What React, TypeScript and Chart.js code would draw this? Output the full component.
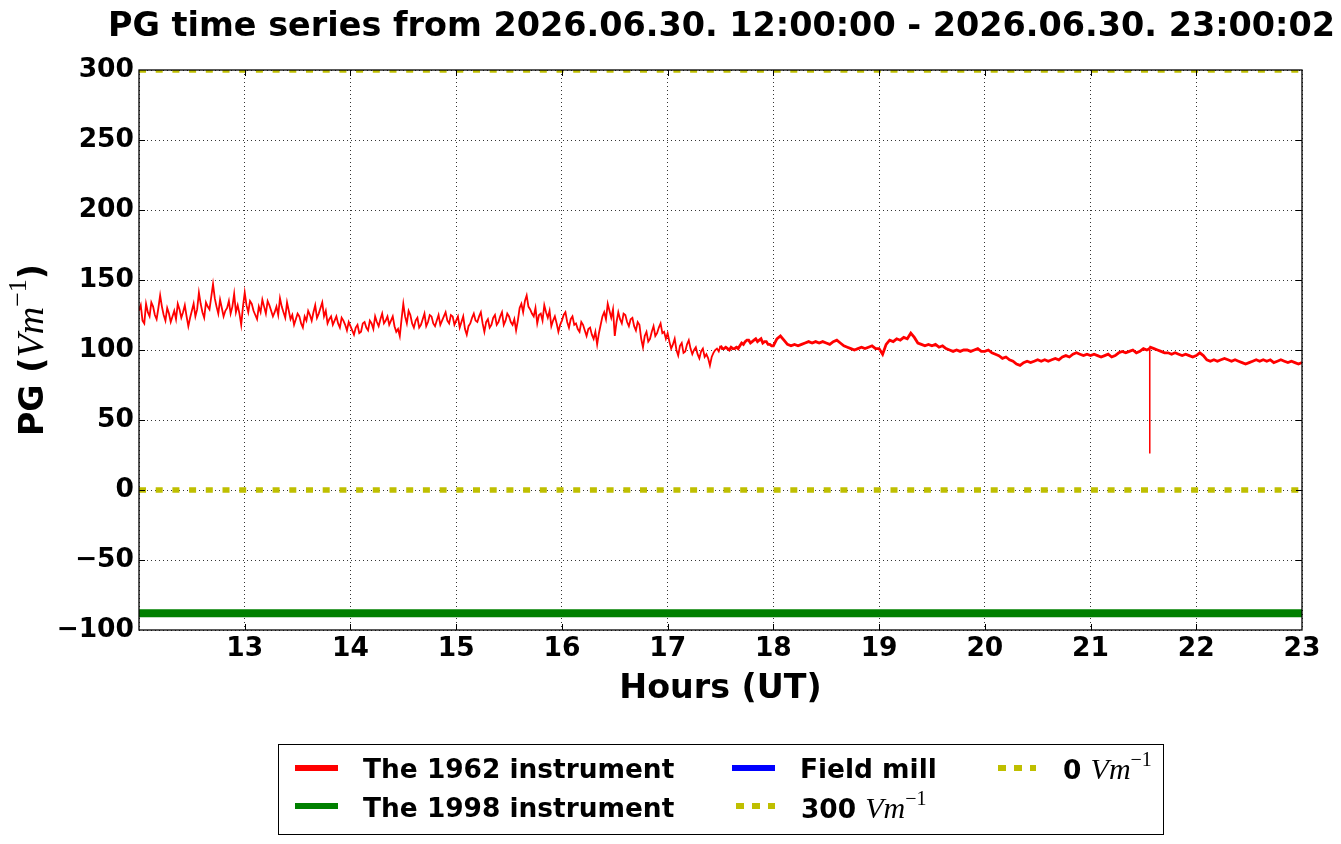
import React, { useEffect, useRef } from "react";
import { Chart, registerables } from "chart.js";

Chart.register(...registerables);

const SANS = "'DejaVu Sans', sans-serif";
const SERIF = "'Liberation Serif', 'DejaVu Serif', serif";

const TITLE = "PG time series from 2026.06.30. 12:00:00 - 2026.06.30. 23:00:02";

// one value every 2 minutes (even minutes), hour by hour (UT)
const hourStarts = [12, 13, 14, 15, 16, 17, 18, 19, 20, 21, 22];
const pg12 = [128, 121, 133, 124, 131, 122, 139, 125, 130, 120, 128, 133, 123, 132, 117, 128, 124, 141, 127, 134, 129, 147, 131, 136, 124, 130, 126, 140, 132, 118];
const pg13 = [141, 127, 133, 125, 131, 136, 126, 132, 124, 131, 137, 127, 134, 122, 118, 126, 119, 124, 128, 121, 132, 126, 134, 128, 122, 118, 124, 116, 121, 114];
const pg14 = [117, 111, 118, 113, 120, 114, 119, 124, 117, 126, 121, 118, 124, 113, 110, 133, 119, 125, 116, 123, 118, 126, 120, 124, 117, 125, 121, 127, 119, 124];
const pg15 = [121, 116, 124, 111, 119, 126, 120, 127, 113, 122, 118, 125, 120, 127, 121, 124, 118, 114, 130, 127, 139, 129, 124, 119, 126, 132, 123, 117, 124, 113];
const pg16 = [121, 127, 116, 124, 119, 113, 118, 110, 116, 108, 104, 118, 127, 133, 123, 110, 127, 119, 125, 117, 123, 114, 118, 102, 113, 108, 117, 112, 119, 113];
const pg17 = [112, 101, 108, 96, 105, 99, 107, 97, 102, 94, 101, 97, 89, 98, 101, 103, 101, 101, 102, 101, 101, 105, 106, 107, 106, 108, 107, 105, 106, 104];
const pg18 = [103, 108, 110, 107, 104, 103, 104, 103, 104, 105, 106, 105, 106, 105, 106, 105, 104, 106, 107, 105, 103, 102, 101, 100, 101, 102, 101, 102, 103, 101];
const pg19 = [101, 97, 104, 107, 106, 108, 107, 109, 108, 112, 109, 105, 104, 103, 104, 103, 104, 102, 103, 101, 100, 99, 100, 99, 100, 100, 99, 100, 101, 99];
const pg20 = [99, 100, 98, 97, 96, 94, 95, 93, 92, 90, 89, 91, 92, 91, 92, 93, 92, 93, 92, 93, 94, 93, 95, 96, 95, 97, 98, 97, 96, 97];
const pg21 = [96, 97, 96, 95, 96, 97, 95, 96, 98, 99, 98, 99, 100, 98, 99, 101, 100, 102, 101, 100, 99, 98, 98, 97, 98, 97, 96, 97, 96, 95];
const pg22 = [96, 98, 96, 93, 92, 93, 92, 93, 94, 93, 92, 93, 92, 91, 90, 91, 92, 93, 92, 93, 92, 93, 91, 92, 93, 92, 91, 92, 91, 90];
const pgByHour = [pg12, pg13, pg14, pg15, pg16, pg17, pg18, pg19, pg20, pg21, pg22];

// odd minutes for the noisier afternoon hours
const oddHourStarts = [12, 13, 14, 15, 16, 17];
const pg12odd = [132, 119, 127, 134, 125, 130, 131, 121, 126, 124, 122, 129, 127, 124, 123, 133, 129, 133, 123, 131, 138, 137, 126, 130, 128, 135, 131, 127, 126, 131];
const pg13odd = [132, 135, 128, 122, 127, 131, 135, 128, 127, 125, 131, 123, 128, 125, 122, 124, 116, 121, 125, 127, 123, 130, 124, 119, 124, 121, 119, 123, 118, 120];
const pg14odd = [114, 116, 112, 119, 116, 121, 115, 120, 122, 119, 124, 121, 117, 115, 122, 124, 128, 119, 121, 116, 122, 117, 125, 119, 121, 118, 124, 121, 125, 118];
const pg15odd = [124, 120, 115, 117, 123, 121, 124, 119, 120, 116, 123, 118, 124, 118, 126, 120, 122, 121, 133, 135, 131, 126, 130, 125, 121, 127, 128, 121, 119, 118];
const pg16odd = [125, 120, 122, 118, 115, 120, 114, 115, 111, 113, 112, 124, 122, 128, 129, 120, 122, 126, 120, 122, 117, 120, 108, 110, 106, 113, 110, 116, 112, 108];
const pg17odd = [106, 104, 100, 103, 98, 104, 101, 100, 97, 99, 95, 94, 95, 100, 99, 101, 102, 100, 101, 102, 103, 104, 107, 105, 107, 106, 108, 106, 104, 103];
const pgOddByHour = [pg12odd, pg13odd, pg14odd, pg15odd, pg16odd, pg17odd];

const endHour = 23;
const endValue = 91;

// short downward spike near 21:34
const spikeHours = [21.5595, 21.56, 21.5605];
const spikeValues = [101, 26, 101];

const pg1998 = -88;
const fieldMill: number[] = [];
const refLevels = [300, 0];

const xTickHours = [12, 13, 14, 15, 16, 17, 18, 19, 20, 21, 22, 23];
const yTickValues = [-100, -50, 0, 50, 100, 150, 200, 250, 300];

const series1962: { x: number; y: number }[] = [];
hourStarts.forEach((h, k) => {
	pgByHour[k].forEach((v, i) => series1962.push({ x: h + i / 30, y: v }));
});
oddHourStarts.forEach((h, k) => {
	pgOddByHour[k].forEach((v, i) => series1962.push({ x: h + (2 * i + 1) / 60, y: v }));
});
spikeHours.forEach((h, i) => series1962.push({ x: h, y: spikeValues[i] }));
series1962.push({ x: endHour, y: endValue });
series1962.sort((a, b) => a.x - b.x);

const flat = (v: number) => [
	{ x: 12, y: v },
	{ x: 23, y: v },
];

const minus = (v: number) => (v < 0 ? "\u2212" + Math.abs(v) : String(v));

// thicker trace for the calm evening part, thin for the noisy part and the spike
const segWidth = (c: any) => {
	if (c.p0.parsed.y < 80 || c.p1.parsed.y < 80) return 1.5;
	return c.p0.parsed.x >= 17.5 ? 2.8 : 1.8;
};

const decorPlugin = {
	id: "decor",
	afterDraw(chart: any) {
		const { ctx, chartArea: a, scales } = chart;
		ctx.save();
		ctx.setLineDash([]);
		ctx.strokeStyle = "#000";
		ctx.lineWidth = 1.3;
		ctx.strokeRect(a.left, a.top, a.right - a.left, a.bottom - a.top);

		// inward tick marks on all four sides
		const len = 6;
		ctx.lineWidth = 1;
		ctx.beginPath();
		xTickHours.slice(1, -1).forEach((h) => {
			const x = Math.round(scales.x.getPixelForValue(h)) + 0.5;
			ctx.moveTo(x, a.bottom);
			ctx.lineTo(x, a.bottom - len);
			ctx.moveTo(x, a.top);
			ctx.lineTo(x, a.top + len);
		});
		yTickValues.slice(1, -1).forEach((v) => {
			const y = Math.round(scales.y.getPixelForValue(v)) + 0.5;
			ctx.moveTo(a.left, y);
			ctx.lineTo(a.left + len, y);
			ctx.moveTo(a.right, y);
			ctx.lineTo(a.right - len, y);
		});
		ctx.stroke();

		const cx = (a.left + a.right) / 2;
		ctx.fillStyle = "#000";
		ctx.textAlign = "center";
		ctx.textBaseline = "alphabetic";
		ctx.font = `bold 33.45px ${SANS}`;
		ctx.fillText(TITLE, cx + 1, 36);
		ctx.font = `bold 33.3px ${SANS}`;
		ctx.fillText("Hours (UT)", cx, a.bottom + 68);

		// y axis title with a superscript
		const parts = [
			{ text: "PG (", font: `bold 33.3px ${SANS}`, dy: 0 },
			{ text: "Vm", font: `italic 38px ${SERIF}`, dy: 0 },
			{ text: "\u22121", font: `26px ${SERIF}`, dy: -17 },
			{ text: ")", font: `bold 33.3px ${SANS}`, dy: 0 },
		];
		let total = 0;
		const widths = parts.map((p) => {
			ctx.font = p.font;
			const w = ctx.measureText(p.text).width;
			total += w;
			return w;
		});
		ctx.translate(43, (a.top + a.bottom) / 2);
		ctx.rotate(-Math.PI / 2);
		ctx.textAlign = "left";
		let px = -total / 2;
		parts.forEach((p, i) => {
			ctx.font = p.font;
			ctx.fillText(p.text, px, p.dy);
			px += widths[i];
		});
		ctx.restore();
	},
};

const tickFont = { family: SANS, weight: "bold" as const, size: 26.5 };

const MathUnit: React.FC = () => (
	<span style={{ fontFamily: SERIF, fontStyle: "italic", fontWeight: "normal", fontSize: 30 }}>
		Vm
		<span style={{ fontStyle: "normal", fontSize: 20, position: "relative", top: -13 }}>{"\u22121"}</span>
	</span>
);

const legendText: React.CSSProperties = {
	position: "absolute",
	fontFamily: SANS,
	fontWeight: "bold",
	fontSize: 26.4,
	lineHeight: "30px",
	whiteSpace: "nowrap",
	color: "#000",
};

const Dots: React.FC<{ left: number; top: number; widths: number[] }> = ({ left, top, widths }) => (
	<>
		{widths.map((w, i) => (
			<div key={i} style={{ position: "absolute", left: left + i * 16, top, width: w, height: 6, background: "#bfbf00" }} />
		))}
	</>
);

const Bar: React.FC<{ left: number; top: number; color: string }> = ({ left, top, color }) => (
	<div style={{ position: "absolute", left, top, width: 43, height: 6, background: color }} />
);

const App: React.FC = () => {
	const chartRef = useRef<HTMLCanvasElement | null>(null);
	const chart = useRef<Chart | null>(null);

	useEffect(() => {
		if (!chartRef.current) return;
		const ctx = chartRef.current.getContext("2d");
		if (!ctx) return;

		chart.current = new Chart(ctx, {
			type: "line",
			data: {
				datasets: [
					{
						label: "The 1962 instrument",
						data: series1962,
						borderColor: "#ff0000",
						borderWidth: 1.8,
						pointRadius: 0,
						tension: 0,
						segment: { borderWidth: segWidth },
					},
					{ label: "The 1998 instrument", data: flat(pg1998), borderColor: "#008000", borderWidth: 8, pointRadius: 0 },
					{ label: "Field mill", data: fieldMill, borderColor: "#0000ff", borderWidth: 4, pointRadius: 0 },
					{ label: "300 Vm-1", data: flat(refLevels[0]), borderColor: "#bfbf00", borderWidth: 5.5, borderDash: [7, 9.7], pointRadius: 0 },
					{ label: "0 Vm-1", data: flat(refLevels[1]), borderColor: "#bfbf00", borderWidth: 5.5, borderDash: [7, 9.7], pointRadius: 0 },
				],
			},
			options: {
				animation: false,
				responsive: false,
				devicePixelRatio: 1,
				layout: { padding: { left: 0, top: 70, right: 39, bottom: 0 } },
				plugins: { legend: { display: false }, title: { display: false }, tooltip: { enabled: false } },
				scales: {
					x: {
						type: "linear",
						min: 12,
						max: 23,
						afterBuildTicks: (s: any) => {
							s.ticks = xTickHours.map((v) => ({ value: v }));
						},
						afterFit: (s: any) => {
							s.height = 214;
						},
						ticks: {
							autoSkip: false,
							maxRotation: 0,
							padding: 3,
							color: "#000",
							font: tickFont,
							callback: (v: any) => (v === 12 ? "" : String(v)),
						},
						grid: { color: "#000", lineWidth: 0.8, drawTicks: false },
						border: { display: false, dash: [1, 3] },
					},
					y: {
						type: "linear",
						min: -100,
						max: 300,
						afterBuildTicks: (s: any) => {
							s.ticks = yTickValues.map((v) => ({ value: v }));
						},
						afterFit: (s: any) => {
							s.width = 139;
						},
						ticks: {
							padding: 5,
							color: "#000",
							font: tickFont,
							callback: (v: any) => minus(Number(v)),
						},
						grid: { color: "#000", lineWidth: 0.8, drawTicks: false },
						border: { display: false, dash: [1, 3] },
					},
				},
			},
			plugins: [decorPlugin],
		} as any);

		return () => {
			if (chart.current) {
				chart.current.destroy();
				chart.current = null;
			}
		};
	}, []);

	return (
		<div style={{ position: "absolute", left: 0, top: 0, width: 1341, height: 844, background: "#fff", overflow: "hidden" }}>
			<canvas ref={chartRef} width={1341} height={844} style={{ display: "block", width: 1341, height: 844 }} />
			<div style={{ position: "absolute", left: 278, top: 744, width: 884, height: 89, border: "1px solid #000" }} />
			<Bar left={295} top={765} color="#ff0000" />
			<div style={{ ...legendText, left: 363, top: 754 }}>The 1962 instrument</div>
			<Bar left={295} top={803} color="#008000" />
			<div style={{ ...legendText, left: 363, top: 793 }}>The 1998 instrument</div>
			<Bar left={732} top={765} color="#0000ff" />
			<div style={{ ...legendText, left: 800, top: 754 }}>Field mill</div>
			<Dots left={736} top={803} widths={[8, 8, 7]} />
			<div style={{ ...legendText, left: 801, top: 793 }}>
				300 <MathUnit />
			</div>
			<Dots left={998} top={765} widths={[8, 8, 6]} />
			<div style={{ ...legendText, left: 1063, top: 754 }}>
				0 <MathUnit />
			</div>
		</div>
	);
};

export default App;
